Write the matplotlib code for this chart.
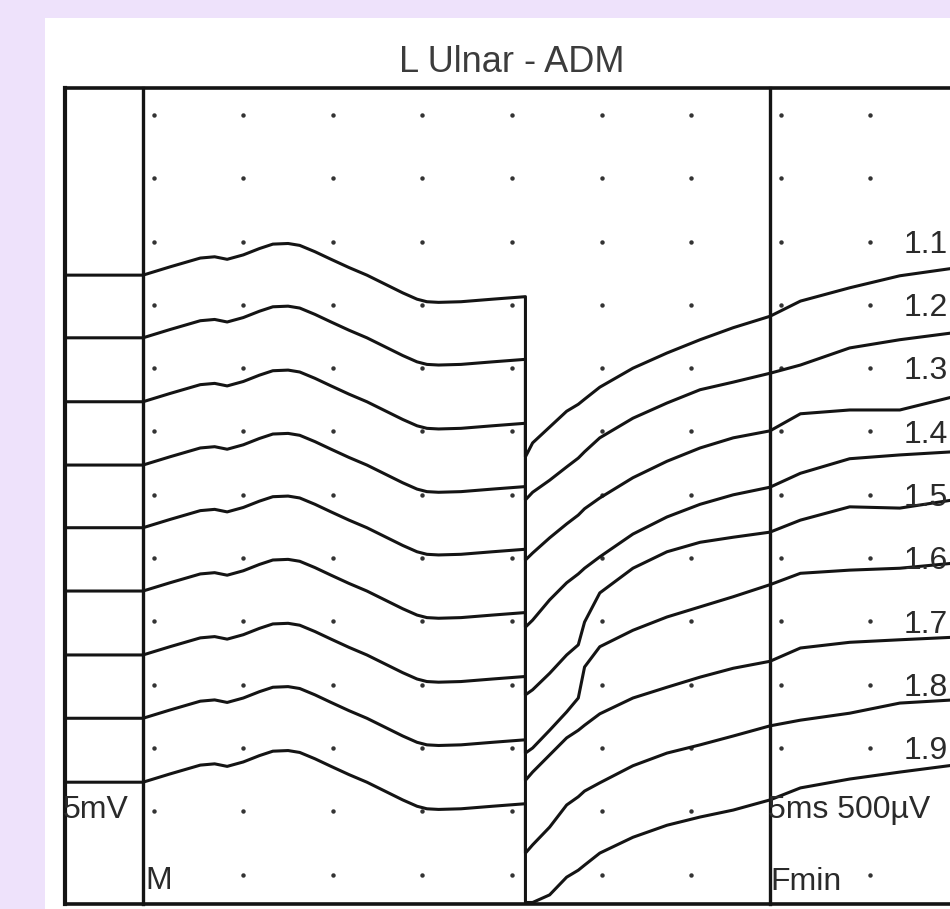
import numpy as np
import matplotlib
matplotlib.use('Agg')
import matplotlib.pyplot as plt

plt.rcParams['font.family'] = ['Liberation Sans', 'DejaVu Sans']

title = 'L Ulnar - ADM'
trace_labels = ['1.1', '1.2', '1.3', '1.4', '1.5', '1.6', '1.7', '1.8', '1.9']

# everything is in screen grid divisions: x to the right from the M/F cursor line,
# y downwards from the first row of grid dots
baselines = [2.53, 3.52, 4.53, 5.53, 6.52, 7.52, 8.53, 9.53, 10.54]

# M response (same shape on every sweep), offset from the baseline
m_x = [0.00, 0.30, 0.64, 0.80, 0.94, 1.12, 1.30, 1.45, 1.62, 1.75, 1.92, 2.10,
       2.30, 2.50, 2.70, 2.90, 3.06, 3.17, 3.30, 3.55, 3.90, 4.27]
m_y = [0.00, -0.13, -0.27, -0.29, -0.25, -0.32, -0.42, -0.49, -0.50, -0.47, -0.37, -0.25,
       -0.12, 0.00, 0.14, 0.28, 0.38, 0.42, 0.43, 0.42, 0.38, 0.34]

# F wave part of each sweep
f_x = [4.27, 4.35, 4.54, 4.73, 4.86, 4.93, 5.10, 5.47, 5.85, 6.22, 6.59, 7.00,
       7.34, 7.89, 8.45, 9.05]
f_1 = [5.40, 5.18, 4.93, 4.68, 4.57, 4.49, 4.30, 4.00, 3.76, 3.55, 3.36, 3.18,
       2.94, 2.73, 2.54, 2.42]
f_2 = [6.08, 5.96, 5.77, 5.56, 5.42, 5.32, 5.10, 4.79, 4.55, 4.34, 4.22, 4.08,
       3.95, 3.68, 3.55, 3.44]
f_3 = [7.03, 6.92, 6.68, 6.46, 6.32, 6.22, 6.05, 5.73, 5.47, 5.26, 5.10, 4.99,
       4.72, 4.66, 4.66, 4.45]
f_4 = [8.09, 7.98, 7.66, 7.39, 7.25, 7.16, 6.98, 6.62, 6.35, 6.15, 6.00, 5.88,
       5.66, 5.43, 5.37, 5.32]
f_5 = [9.16, 9.08, 8.82, 8.53, 8.37, 8.01, 7.55, 7.16, 6.90, 6.75, 6.67, 6.59,
       6.40, 6.19, 6.21, 6.08]
f_6 = [10.08, 10.00, 9.72, 9.43, 9.21, 8.72, 8.40, 8.14, 7.93, 7.77, 7.61, 7.42,
       7.24, 7.19, 7.16, 7.08]
f_7 = [10.51, 10.38, 10.11, 9.84, 9.72, 9.64, 9.46, 9.21, 9.04, 8.88, 8.74, 8.63,
       8.42, 8.33, 8.29, 8.25]
f_8 = [11.66, 11.53, 11.25, 10.90, 10.77, 10.68, 10.55, 10.28, 10.08, 9.95, 9.81, 9.65,
       9.56, 9.45, 9.29, 9.24]
f_9 = [12.44, 12.44, 12.32, 12.04, 11.93, 11.85, 11.66, 11.41, 11.22, 11.09, 10.98, 10.82,
       10.63, 10.49, 10.38, 10.27]
f_traces = [f_1, f_2, f_3, f_4, f_5, f_6, f_7, f_8, f_9]

ink = '#141414'
txt = '#2a2a2a'

fig = plt.figure(figsize=(9.5, 9.09), dpi=100, facecolor='#eee2fb')
ax = fig.add_axes([45 / 950, 0, 905 / 950, 891 / 909])
ax.set_facecolor('white')
ax.set_xlim(-1.094, 9.01)
ax.set_ylim(12.543, -1.532)
ax.set_xticks([])
ax.set_yticks([])
for s in ax.spines.values():
    s.set_visible(False)

# frame
left, top, bottom = -0.87, -0.43, 12.47
ax.plot([left, 9.5], [top, top], color=ink, lw=2.6)
ax.plot([left, 9.5], [bottom, bottom], color=ink, lw=2.6)
ax.plot([left, left], [top, bottom], color=ink, lw=3.0)
ax.plot([0, 0], [top, bottom], color=ink, lw=2.4)
ax.plot([7, 7], [top, bottom], color=ink, lw=2.4)

# grid dots
for r in range(13):
    for c in range(9):
        if (r == 12 and c in (0, 7)) or (r == 11 and c >= 7):
            continue
        ax.plot(c + 0.12, r, 'o', color='#333333', ms=3.2, mew=0)

# sweeps: baseline in the left strip, M response, then F wave
for b, fy in zip(baselines, f_traces):
    x = [left] + m_x + f_x
    y = [b] + [b + v for v in m_y] + fy
    ax.plot(x, y, color=ink, lw=2.2, solid_joinstyle='round')

ax.text(4.12, -0.83, title, ha='center', va='center', fontsize=26, color='#3c3c3c')
for i, lab in enumerate(trace_labels):
    ax.text(8.99, i + 2.05, lab, ha='right', va='center', fontsize=23, color=txt)
ax.text(-0.9, 10.98, '5mV', ha='left', va='center', fontsize=23, color=txt)
ax.text(0.03, 12.1, 'M', ha='left', va='center', fontsize=23, color=txt)
ax.text(6.98, 10.98, '5ms 500µV', ha='left', va='center', fontsize=23, color=txt)
ax.text(7.0, 12.12, 'Fmin', ha='left', va='center', fontsize=23, color=txt)

fig.savefig('out.png', dpi=100, facecolor=fig.get_facecolor())
